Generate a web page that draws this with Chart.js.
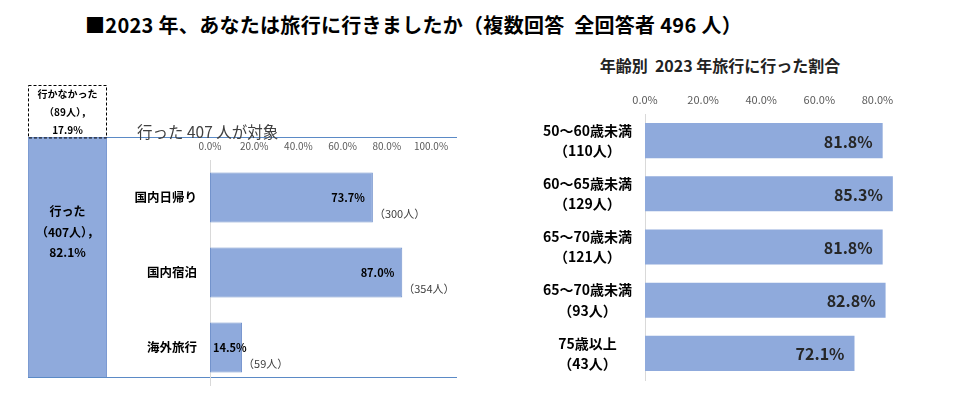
<!DOCTYPE html>
<html lang="ja">
<head>
<meta charset="utf-8">
<script src="https://cdn.jsdelivr.net/npm/chart.js@4"></script>
<style>
  body { margin: 0; background: #fff; font-family: "Noto Sans CJK JP", sans-serif; }
  #wrap { position: relative; width: 957px; height: 411px; overflow: hidden; }
  .box { position: absolute; }
  #mainTitle { position: absolute; left: 85px; top: 10px; font-size: 20px; font-weight: bold; color: #000; white-space: nowrap; letter-spacing: 0.3px; }
  #subNote { position: absolute; left: 137px; top: 120px; font-size: 15.5px; color: #404040; white-space: nowrap; }
  #rightTitle { position: absolute; left: 520px; width: 400px; top: 53px; text-align: center; font-size: 16px; font-weight: bold; color: #222; white-space: nowrap; }
</style>
</head>
<body>
<div id="wrap">
  <div id="mainTitle">■2023 年、あなたは旅行に行きましたか（複数回答&nbsp; 全回答者 496 人）</div>
  <div class="box" style="left:0;top:75px;width:460px;height:315px"><canvas id="leftChart"></canvas></div>
  <div id="subNote">行った 407 人が対象</div>
  <div class="box" style="left:110px;top:130px;width:350px;height:260px"><canvas id="midChart"></canvas></div>
  <div id="rightTitle">年齢別&nbsp; 2023 年旅行に行った割合</div>
  <div class="box" style="left:520px;top:80px;width:430px;height:310px"><canvas id="rightChart"></canvas></div>
</div>
<script>
// 全体（行った / 行かなかった）
const overallLabels = [["行った", "（407人），", "82.1%"], ["行かなかった", "（89人），", "17.9%"]];
const overallValues = [82.1, 17.9];

// 行った 407 人の内訳
const tripCategories = ["国内日帰り", "国内宿泊", "海外旅行"];
const tripValues = [73.7, 87.0, 14.5];
const tripCounts = [300, 354, 59];
const tripTicks = [0, 20, 40, 60, 80, 100];

// 年齢別
const ageCategories = [
    ["50～60歳未満", "（110人）"],
    ["60～65歳未満", "（129人）"],
    ["65～70歳未満", "（121人）"],
    ["65～70歳未満", "（93人）"],
    ["75歳以上", "（43人）"]
];
const ageValues = [81.8, 85.3, 81.8, 82.8, 72.1];
const ageTicks = [0, 20, 40, 60, 80];

const FONT = "'Noto Sans CJK JP', sans-serif";
const BAR_FILL = "#8FAADC";
const BAR_EDGE = "#7393CC";
const pct = v => v.toFixed(1) + "%";

Chart.defaults.font.family = FONT;
Chart.defaults.animation = false;

// 左の積み上げ棒：点線枠・区切り線・ラベル
const leftPlugin = {
    id: "leftDeco",
    afterDatasetsDraw(chart) {
        const ctx = chart.ctx;
        const area = chart.chartArea;
        const yScale = chart.scales.y;
        const lineEnd = chart.width - 3;

        // 行かなかった：点線の枠
        const top = chart.getDatasetMeta(1).data[0];
        ctx.save();
        ctx.strokeStyle = "#000";
        ctx.lineWidth = 1;
        ctx.setLineDash([3, 2]);
        ctx.strokeRect(top.x - top.width / 2 + 0.5, top.y + 0.5, top.width - 1, top.base - top.y);
        ctx.restore();

        // 区切り線
        const splitY = Math.round(yScale.getPixelForValue(overallValues[0])) + 0.5;
        const baseY = Math.round(yScale.getPixelForValue(0)) - 0.5;
        ctx.save();
        ctx.strokeStyle = "#5B8AC6";
        ctx.lineWidth = 1;
        ctx.beginPath();
        ctx.moveTo(area.right, splitY);
        ctx.lineTo(lineEnd, splitY);
        ctx.moveTo(area.left, baseY);
        ctx.lineTo(lineEnd, baseY);
        ctx.stroke();
        ctx.restore();

        // ラベル
        ctx.save();
        ctx.textAlign = "center";
        ctx.textBaseline = "middle";
        ctx.fillStyle = "#000";
        const went = chart.getDatasetMeta(0).data[0];
        ctx.font = "bold 12px " + FONT;
        overallLabels[0].forEach((t, i) => ctx.fillText(t, went.x, (went.y + went.base) / 2 - 46 + i * 20.5));
        ctx.font = "bold 10px " + FONT;
        overallLabels[1].forEach((t, i) => ctx.fillText(t, top.x, (top.y + top.base) / 2 - 17 + i * 18));
        ctx.restore();
    }
};

new Chart(document.getElementById("leftChart"), {
    type: "bar",
    data: {
        labels: [""],
        datasets: [
            { data: [overallValues[0]], backgroundColor: BAR_FILL, borderColor: BAR_EDGE, borderWidth: 1, borderSkipped: false },
            { data: [overallValues[1]], backgroundColor: "#FFFFFF", borderWidth: 0 }
        ]
    },
    options: {
        responsive: true,
        maintainAspectRatio: false,
        layout: { padding: { left: 28, right: 353, top: 10, bottom: 12 } },
        datasets: { bar: { barPercentage: 1, categoryPercentage: 1 } },
        scales: {
            x: { stacked: true, display: false },
            y: { stacked: true, display: false, min: 0, max: 100 }
        },
        plugins: { legend: { display: false }, tooltip: { enabled: false } }
    },
    plugins: [leftPlugin]
});

// 真ん中：内訳
const midPlugin = {
    id: "midLabels",
    afterDatasetsDraw(chart) {
        const ctx = chart.ctx;
        const meta = chart.getDatasetMeta(0);
        ctx.save();
        meta.data.forEach((bar, i) => {
            const label = pct(tripValues[i]);
            ctx.font = "bold 11px " + FONT;
            ctx.fillStyle = "#000";
            ctx.textBaseline = "middle";
            const w = ctx.measureText(label).width;
            if (w + 12 < bar.x - bar.base) {
                ctx.textAlign = "right";
                ctx.fillText(label, bar.x - 8, bar.y);
            } else {
                ctx.textAlign = "left";
                ctx.fillText(label, bar.base + 3, bar.y);
            }
            ctx.font = "11px " + FONT;
            ctx.fillStyle = "#404040";
            ctx.textAlign = "left";
            ctx.fillText("（" + tripCounts[i] + "人）", bar.x + 1, bar.y + bar.height / 2 - 9);
        });
        ctx.restore();
    }
};

new Chart(document.getElementById("midChart"), {
    type: "bar",
    data: {
        labels: tripCategories,
        datasets: [{ data: tripValues, backgroundColor: BAR_FILL, borderColor: BAR_EDGE, borderWidth: 1, borderSkipped: false }]
    },
    options: {
        indexAxis: "y",
        responsive: true,
        maintainAspectRatio: false,
        layout: { padding: { left: 0, right: 29, top: 0, bottom: 5 } },
        datasets: { bar: { barPercentage: 0.667, categoryPercentage: 1 } },
        scales: {
            x: {
                position: "top",
                min: 0,
                max: 100,
                afterFit: s => { s.height = 30; s.paddingLeft = 0; s.paddingRight = 0; },
                afterBuildTicks: s => { s.ticks = tripTicks.map(v => ({ value: v })); },
                grid: { display: false, drawTicks: false },
                border: { display: false },
                ticks: { padding: 8, color: "#595959", font: { size: 10 }, callback: v => pct(v) }
            },
            y: {
                afterFit: s => { s.width = 100; s.paddingTop = 0; s.paddingBottom = 0; },
                grid: { display: false, drawTicks: false },
                border: { display: true, color: "#D9D9D9" },
                ticks: { padding: 13, color: "#000", font: { size: 12.5, weight: "bold" } }
            }
        },
        plugins: { legend: { display: false }, tooltip: { enabled: false } }
    },
    plugins: [midPlugin]
});

// 右：年齢別
const rightPlugin = {
    id: "rightLabels",
    afterDatasetsDraw(chart) {
        const ctx = chart.ctx;
        ctx.save();
        ctx.font = "bold 16px " + FONT;
        ctx.fillStyle = "#262626";
        ctx.textAlign = "right";
        ctx.textBaseline = "middle";
        chart.getDatasetMeta(0).data.forEach((bar, i) => {
            ctx.fillText(pct(ageValues[i]), bar.x - 10, bar.y + 1);
        });
        ctx.restore();
    }
};

new Chart(document.getElementById("rightChart"), {
    type: "bar",
    data: {
        labels: ageCategories,
        datasets: [{ data: ageValues, backgroundColor: BAR_FILL, borderWidth: 0 }]
    },
    options: {
        indexAxis: "y",
        responsive: true,
        maintainAspectRatio: false,
        layout: { padding: { left: 0, right: 43.5, top: 0, bottom: 10 } },
        datasets: { bar: { barPercentage: 0.66, categoryPercentage: 1 } },
        scales: {
            x: {
                position: "top",
                min: 0,
                max: 90,
                afterFit: s => { s.height = 34; s.paddingLeft = 0; s.paddingRight = 0; },
                afterBuildTicks: s => { s.ticks = ageTicks.map(v => ({ value: v })); },
                grid: { display: false, drawTicks: false },
                border: { display: false },
                ticks: { padding: 8, color: "#595959", font: { size: 11 }, callback: v => pct(v) }
            },
            y: {
                afterFit: s => { s.width = 125; s.paddingTop = 0; s.paddingBottom = 0; },
                grid: { display: false, drawTicks: false },
                border: { display: true, color: "#D9D9D9" },
                ticks: { padding: 13, crossAlign: "center", color: "#000", font: { size: 14, weight: "bold", lineHeight: 1.45 } }
            }
        },
        plugins: { legend: { display: false }, tooltip: { enabled: false } }
    },
    plugins: [rightPlugin]
});
</script>
</body>
</html>
